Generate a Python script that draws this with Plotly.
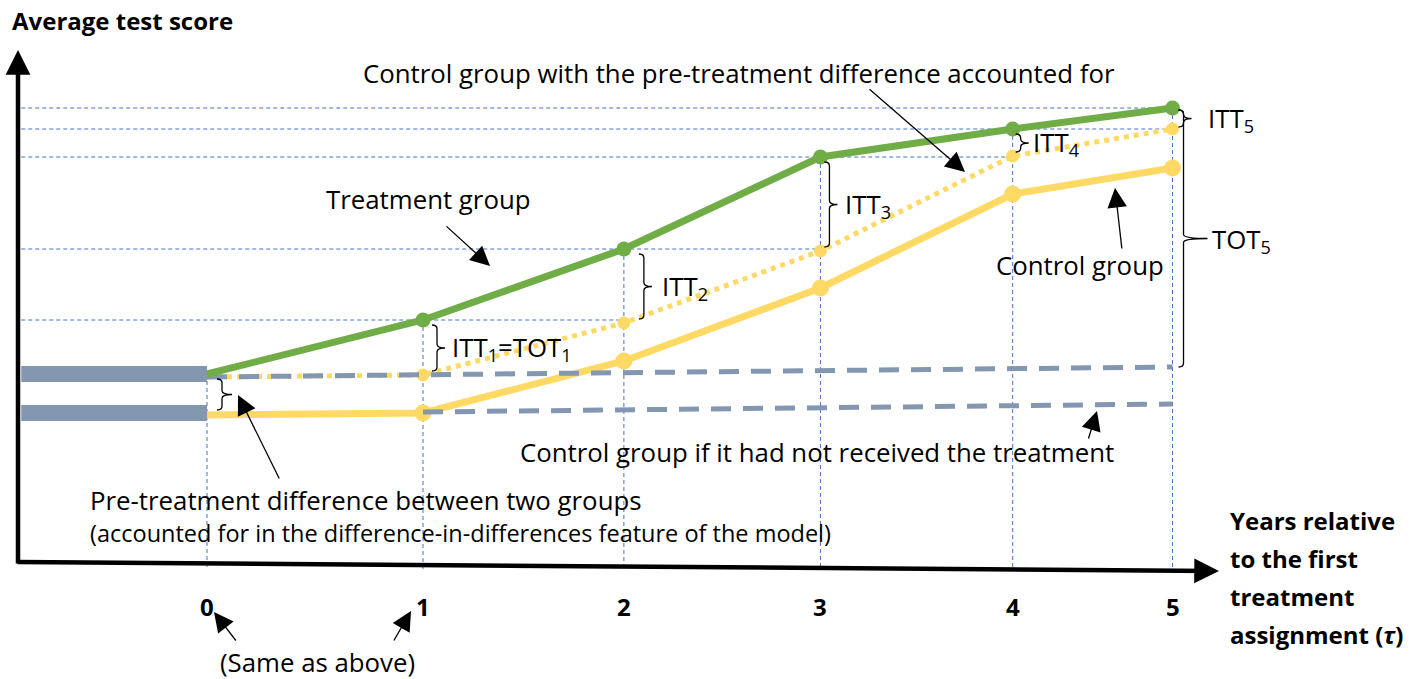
import plotly.graph_objects as go

# years since first treatment assignment and where they sit on the drawn axis
years = [0, 1, 2, 3, 4, 5]
year_pos = [0, 1.0, 1.93, 2.84, 3.73, 4.47]

# average test scores (arbitrary units)
treatment = [3.78, 4.86, 6.28, 8.12, 8.68, 9.10]
control = [2.96, 3.00, 4.04, 5.50, 7.38, 7.90]
control_adj = [3.72, 3.76, 4.80, 6.24, 8.14, 8.68]

# control group if it had not received the treatment
cf_upper_years = [0, 5]
cf_upper = [3.72, 3.92]
cf_lower_years = [1, 5]
cf_lower = [3.02, 3.18]

# pre-treatment levels (before year 0)
pre_start = -0.86
pre_levels = [3.78, 3.00]

GREEN = "#70AD47"
YELLOW = "#FFD966"
GREY = "#8497B0"
BLUE = "#4472C4"
FONT = "Open Sans"
REG = 25.8
SMALL = 23.5
BOLD = 24


# pixel helpers for the free-standing decorations
def px(x):
    return (x - 207) / 216


def py(y):
    return (563 - y) / 50


def pos(year):
    return year_pos[years.index(year)]


fig = go.Figure()

# blue guide lines
gx, gy = [], []
for i in range(len(years)):
    gx += [year_pos[i], year_pos[i], None]
    gy += [treatment[i], -0.12, None]
for i in range(1, len(years)):
    gx += [pre_start, year_pos[min(i + 1, len(years) - 1)], None]
    gy += [treatment[i], treatment[i], None]
fig.add_trace(go.Scatter(x=gx, y=gy, mode="lines",
                         line=dict(color=BLUE, width=1, dash="4px,3px"),
                         hoverinfo="skip"))

# pre-treatment thick bars
for lvl in pre_levels:
    fig.add_trace(go.Scatter(x=[pre_start, 0], y=[lvl, lvl], mode="lines",
                             line=dict(color=GREY, width=16)))

# control group
fig.add_trace(go.Scatter(x=year_pos, y=control, mode="lines",
                         line=dict(color=YELLOW, width=7)))
fig.add_trace(go.Scatter(x=year_pos[1:], y=control[1:], mode="markers",
                         marker=dict(color=YELLOW, size=17)))

# control group shifted by the pre-treatment difference
fig.add_trace(go.Scatter(x=year_pos, y=control_adj, mode="lines",
                         line=dict(color=YELLOW, width=5, dash="5px,5px")))
fig.add_trace(go.Scatter(x=year_pos[1:], y=control_adj[1:], mode="markers",
                         marker=dict(color=YELLOW, size=13)))

# counterfactual trends
fig.add_trace(go.Scatter(x=[pos(y) for y in cf_upper_years], y=cf_upper, mode="lines",
                         line=dict(color=GREY, width=5, dash="20px,12px")))
fig.add_trace(go.Scatter(x=[pos(y) for y in cf_lower_years], y=cf_lower, mode="lines",
                         line=dict(color=GREY, width=5, dash="20px,12px")))

# treatment group
fig.add_trace(go.Scatter(x=year_pos, y=treatment, mode="lines",
                         line=dict(color=GREEN, width=7)))
fig.add_trace(go.Scatter(x=year_pos[1:], y=treatment[1:], mode="markers",
                         marker=dict(color=GREEN, size=15)))


# curly braces
def brace(x, top, bot, w=10, tip=8):
    dx = 1 / 216
    dy = 1 / 50
    xs = x
    xm = (top + bot) / 2
    r = min(4 * dy, (top - bot) / 4)
    p = (f"M {xs - w * dx * 0.5},{top} Q {xs},{top} {xs},{top - r} "
         f"L {xs},{xm + r} Q {xs},{xm} {xs + tip * dx},{xm} "
         f"Q {xs},{xm} {xs},{xm - r} L {xs},{bot + r} "
         f"Q {xs},{bot} {xs - w * dx * 0.5},{bot}")
    fig.add_shape(type="path", path=p, xref="x", yref="y",
                  line=dict(color="black", width=1.3))
    return xs + tip * dx, xm


lab = dict(font=dict(family=FONT, size=REG, color="black"), showarrow=False,
           xref="x", yref="y", xanchor="left", yanchor="middle")

itt_offsets = [None, 14, 20, 9, 8]
label_gap = [None, 5, 8, 6, 2]
for i in range(1, 5):
    bx = year_pos[i] + itt_offsets[i] / 216
    tx, ty = brace(bx, treatment[i] - 0.1, control_adj[i] + 0.08)
    text = "ITT<sub>1</sub>=TOT<sub>1</sub>" if i == 1 else f"ITT<sub>{i}</sub>"
    fig.add_annotation(x=tx + label_gap[i] / 216, y=ty, text=text, **lab)

bx5 = year_pos[5] + 11 / 216
tx, ty = brace(bx5, treatment[5] - 0.04, control_adj[5] + 0.04)
fig.add_annotation(x=tx + 14 / 216, y=ty, text="ITT<sub>5</sub>", **lab)
tx, ty = brace(bx5, treatment[5] - 0.04, cf_upper[1], tip=24)
fig.add_annotation(x=tx + 2 / 216, y=ty - 0.02, text="TOT<sub>5</sub>", **lab)
brace(px(222), py(379), py(410), tip=10)

# axes drawn as arrows
fig.add_annotation(x=px(18), y=py(50), ax=px(18), ay=py(565), xref="x", yref="y",
                   axref="x", ayref="y", showarrow=True, arrowhead=2,
                   arrowsize=1.1, arrowwidth=4.5, arrowcolor="black", text="")
fig.add_annotation(x=px(1219), y=py(571), ax=px(16), ay=py(562), xref="x", yref="y",
                   axref="x", ayref="y", showarrow=True, arrowhead=2,
                   arrowsize=1.1, arrowwidth=4.5, arrowcolor="black", text="")

# tick labels
bold = dict(family=FONT, size=BOLD, color="black")
for y, xp in zip(years, year_pos):
    fig.add_annotation(x=xp, y=py(606), text=f"<b>{y}</b>", showarrow=False, font=bold)

fig.add_annotation(x=px(10), y=py(20), text="<b>Average test score</b>", showarrow=False,
                   xanchor="left", font=bold)
for k, line in enumerate(["Years relative", "to the first", "treatment",
                          "assignment (<i>τ</i>)"]):
    fig.add_annotation(x=px(1228), y=py(520 + 38 * k), text=f"<b>{line}</b>",
                       showarrow=False, xanchor="left", font=bold)

texts = [
    ("Control group with the pre-treatment difference accounted for", 739, 73, "center", REG),
    ("Treatment group", 428, 199, "center", REG),
    ("Control group", 1080, 265, "center", REG),
    ("Control group if it had not received the treatment", 817, 452, "center", REG),
    ("Pre-treatment difference between two groups", 88, 500, "left", REG),
    ("(accounted for in the difference-in-differences feature of the model)", 88, 533, "left", SMALL),
    ("(Same as above)", 317, 662, "center", REG),
]
for t, x, y, anc, s in texts:
    fig.add_annotation(x=px(x), y=py(y), text=t, showarrow=False, xanchor=anc,
                       font=dict(family=FONT, size=s, color="black"))

# pointer arrows (head, tail) in pixels
pointers = [
    ((490, 266), (445, 225)),
    ((965, 172), (868, 88)),
    ((1115, 188), (1122, 250)),
    ((1097, 411), (1088, 440)),
    ((238, 395), (280, 480)),
    ((214, 612), (237, 642)),
    ((411, 611), (393, 642)),
]
for (hx, hy), (tx_, ty_) in pointers:
    fig.add_annotation(x=px(hx), y=py(hy), ax=px(tx_), ay=py(ty_), xref="x", yref="y",
                       axref="x", ayref="y", showarrow=True, arrowhead=2,
                       arrowsize=3, arrowwidth=1.3, arrowcolor="black", text="")

fig.update_layout(
    width=1421, height=679, margin=dict(l=0, r=0, t=0, b=0),
    plot_bgcolor="white", paper_bgcolor="white", showlegend=False,
    xaxis=dict(range=[px(0), px(1421)], visible=False, fixedrange=True),
    yaxis=dict(range=[py(679), py(0)], visible=False, fixedrange=True),
)

# drop the page's default body margin so the figure fills the window
fig.write_html("out.html", config={"displayModeBar": False},
               post_script="document.body.style.margin='0';"
                           "document.body.style.overflow='hidden';")
